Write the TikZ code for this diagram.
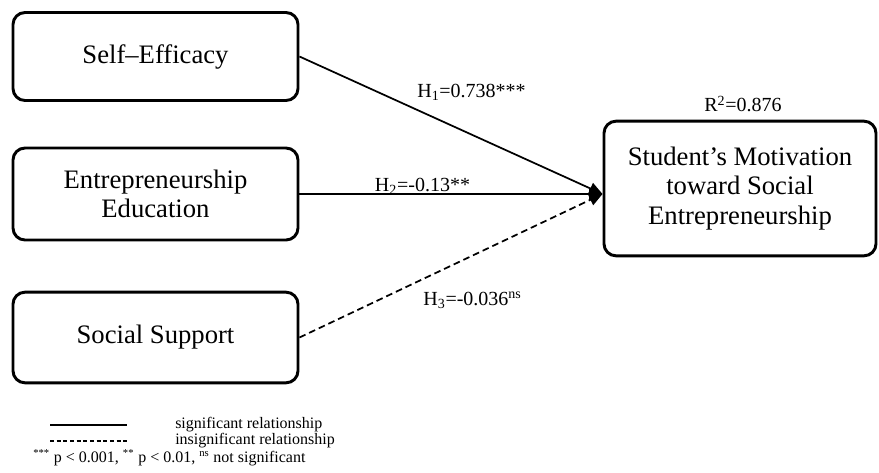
\documentclass[tikz,border=0pt]{standalone}
\usepackage{fontspec}
\setmainfont{Liberation Serif}
\usetikzlibrary{arrows.meta}

\tikzset{
  construct/.style={draw, line width=2.2pt, rounded corners=9pt, align=center,
    inner sep=0pt, minimum width=213.75pt,
    font=\fontsize{20}{22}\selectfont},
  link/.style={line width=1.3pt, -{Triangle[length=10pt,width=9pt]}},
  nslink/.style={link, dash pattern=on 5pt off 3pt},
  coef/.style={inner sep=0pt, font=\fontsize{15}{17}\selectfont},
  legendtext/.style={inner sep=0pt, anchor=west, font=\fontsize{12}{13}\selectfont},
}

\begin{document}
\begin{tikzpicture}[x=0.75pt, y=-0.75pt]
  \useasboundingbox (0, 0) rectangle (879, 472);

  \node[construct, minimum height=66pt] (eff) at (155.5, 56.5) {Self--Efficacy};
  \node[construct, minimum height=69pt] (edu) at (155.5, 194) {Entrepreneurship\\Education};
  \node[construct, minimum height=68pt] (sup) at (155.5, 337.5) {Social Support};
  \node[construct, minimum width=204pt, minimum height=101pt] (mot) at (740, 188.5)
    {Student’s Motivation\\toward Social\\Entrepreneurship};

  \coordinate (meet) at (mot.west |- edu.east);

  \draw[link] (eff.east) -- (meet);
  \draw[link] (edu.east) -- (meet);
  \draw[nslink] (sup.east) -- (meet);

  \node[coef] (h1) at (471.5, 92) {H\textsubscript{1}=0.738***};
  \node[coef] (h2) at (422.5, 186) {H\textsubscript{2}=-0.13**};
  \node[coef] (h3) at (472.5, 300) {H\textsubscript{3}=-0.036\textsuperscript{ns}};
  \node[coef] (r2) at (743, 104) {R\textsuperscript{2}=0.876};

  \draw[line width=0.8pt] (50, 425) -- (127, 425);
  \draw[line width=0.8pt, dash pattern=on 3pt off 2pt] (50, 441) -- (127, 441);
  \node[legendtext] (sig) at (175, 425) {significant relationship};
  \node[legendtext] (insig) at (175, 441) {insignificant relationship};
  \node[legendtext] (pval) at (33, 458)
    {\textsuperscript{***} p < 0.001, \textsuperscript{**} p < 0.01, \textsuperscript{ns} not significant};
\end{tikzpicture}
\end{document}
